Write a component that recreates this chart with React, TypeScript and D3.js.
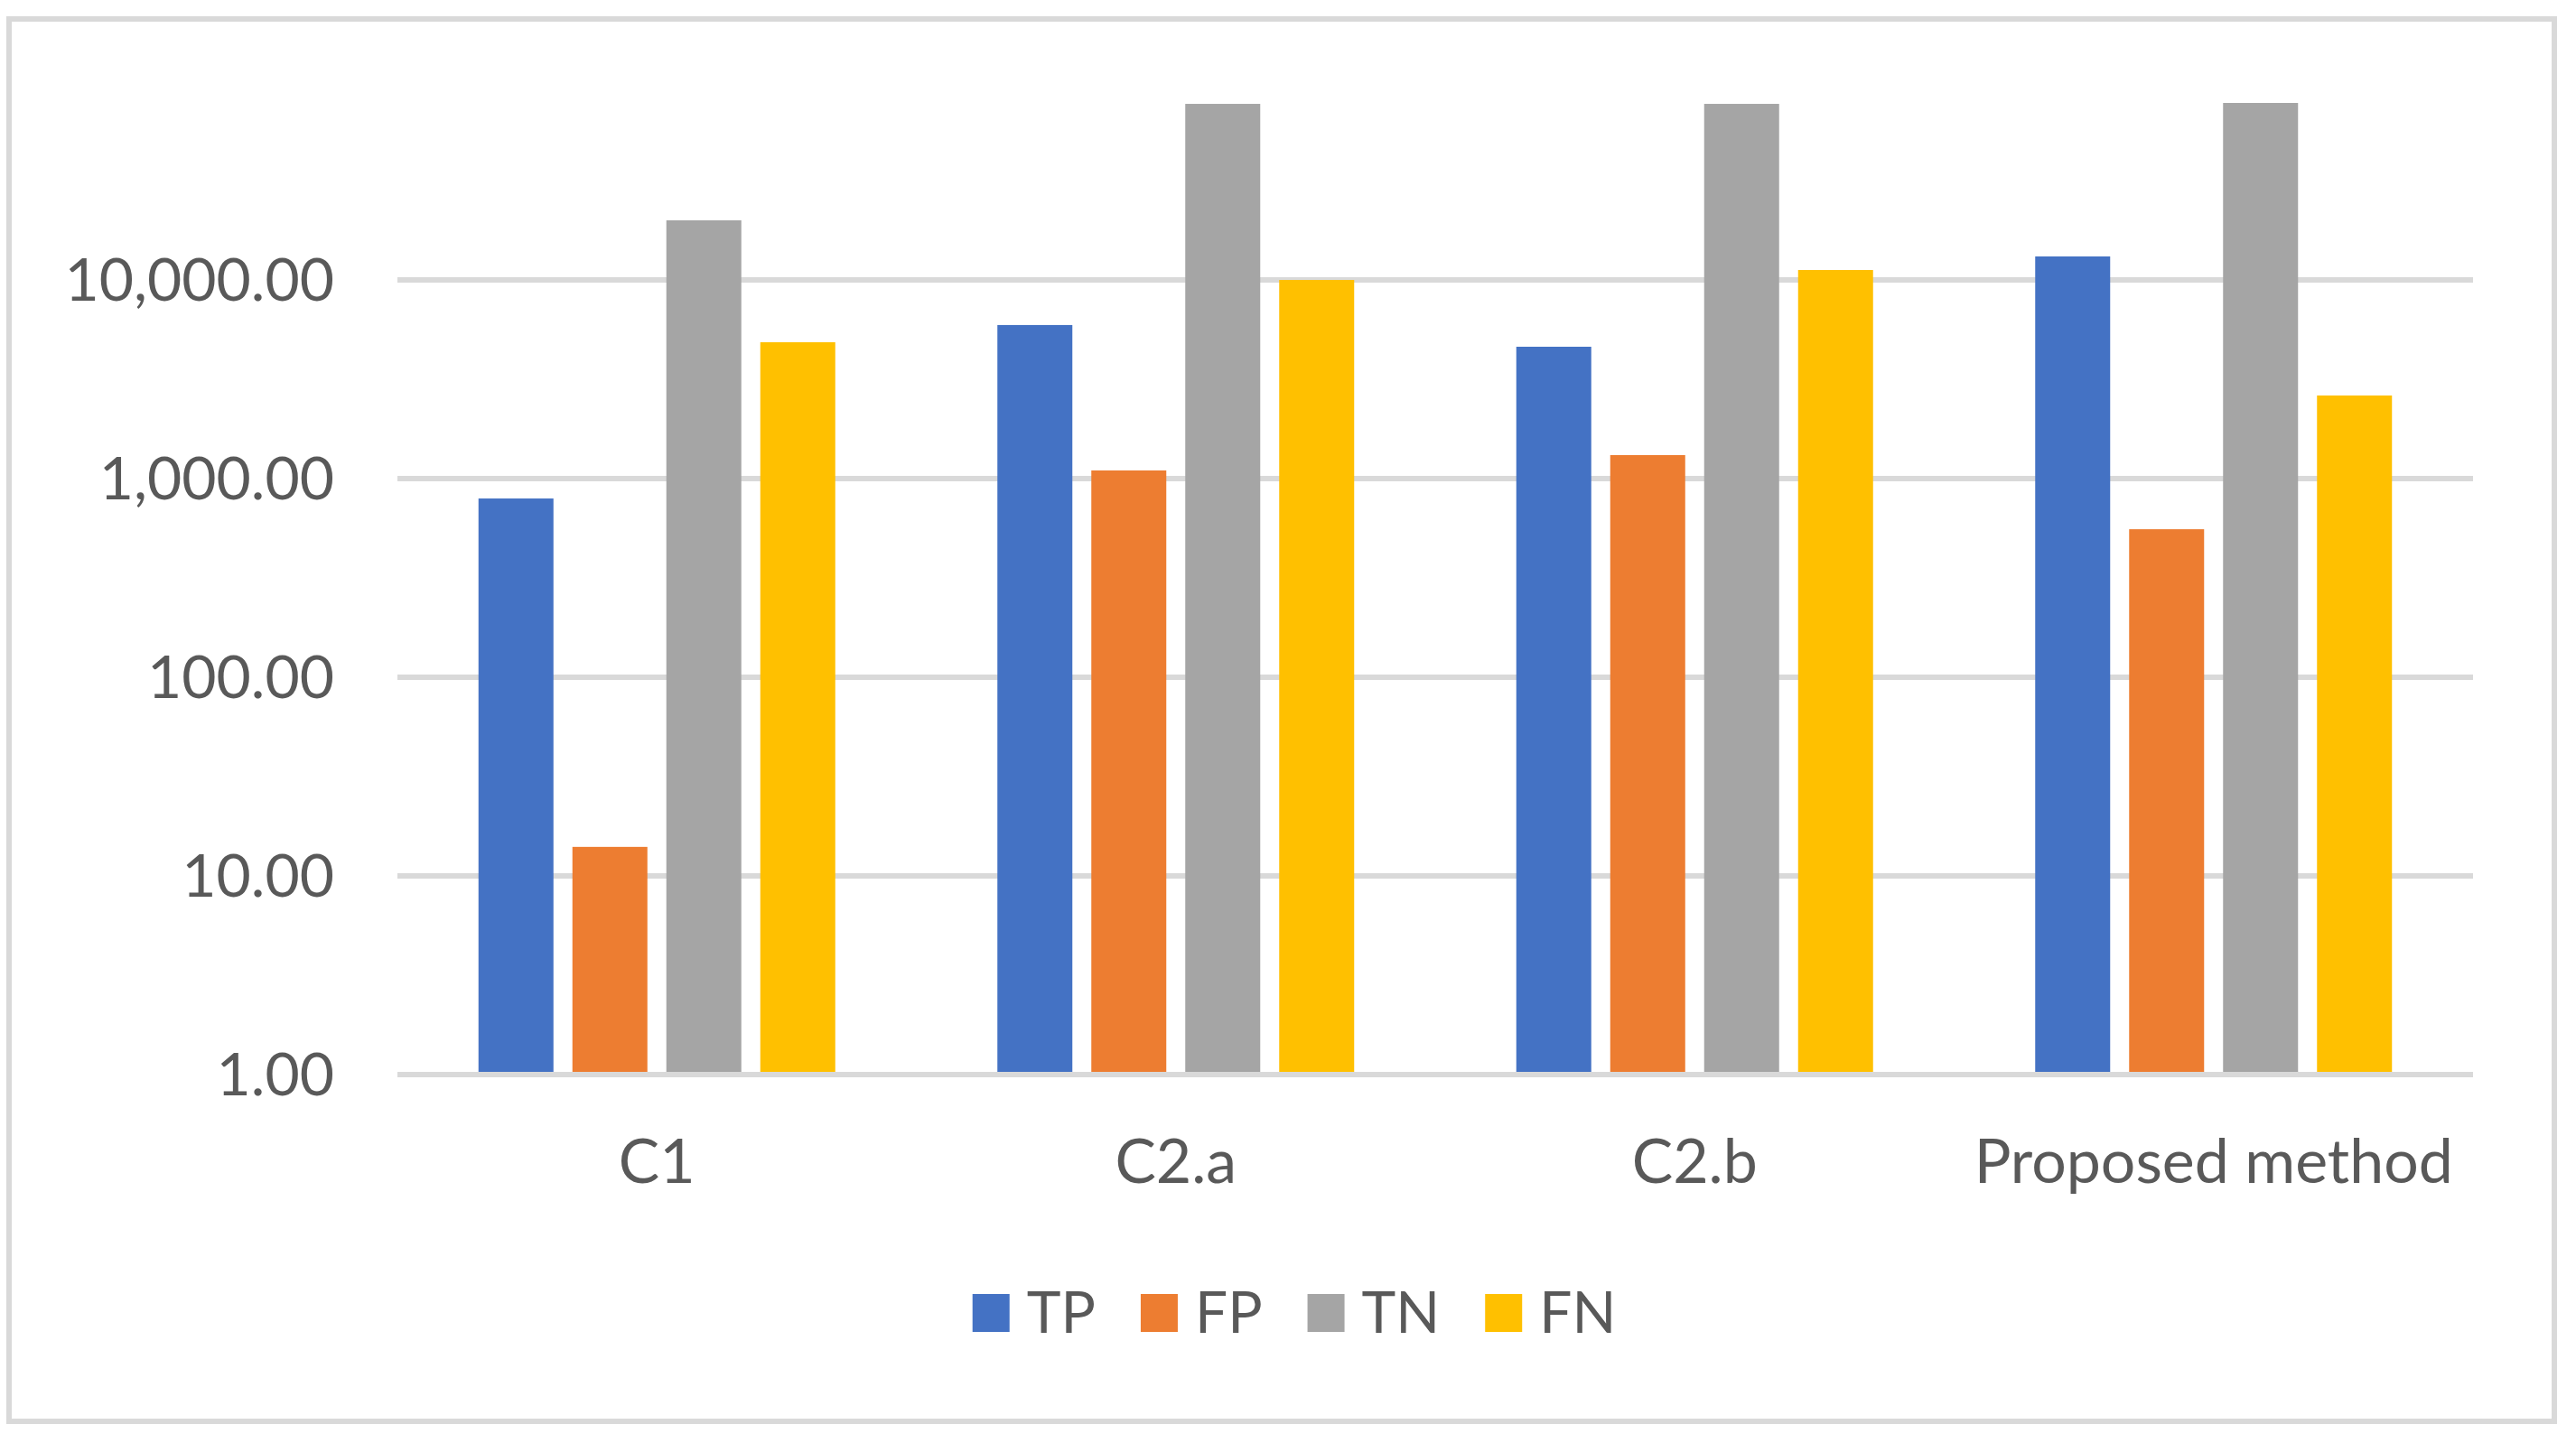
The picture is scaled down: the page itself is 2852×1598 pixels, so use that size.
import React, { useEffect, useRef } from "react";
import * as d3 from "d3";

const categories = ["C1", "C2.a", "C2.b", "Proposed method"];
const seriesNames = ["TP", "FP", "TN", "FN"];
const seriesColors = ["#4472C4", "#ED7D31", "#A5A5A5", "#FFC000"];
const tpValues = [794, 5930, 4610, 13130];
const fpValues = [14, 1099, 1313, 556];
const tnValues = [19950, 76950, 76950, 77800];
const fnValues = [4856, 10000, 11220, 2620];
const tickValues = [1, 10, 100, 1000, 10000];

const W = 2852;
const H = 1598;

export default function App() {
  const ref = useRef<SVGSVGElement | null>(null);

  useEffect(() => {
    const svg = d3.select(ref.current);
    svg.selectAll("*").remove();
    const font = "Lato, 'Open Sans', sans-serif";
    const textColor = "#595959";
    const grid = "#D9D9D9";

    // chart border
    svg.append("rect")
      .attr("x", 10).attr("y", 21).attr("width", 2818).attr("height", 1553)
      .attr("fill", "#fff").attr("stroke", grid).attr("stroke-width", 6);

    const plotLeft = 440, plotRight = 2738;
    const x0 = d3.scaleBand<string>().domain(categories).range([plotLeft, plotRight]).paddingInner(0).paddingOuter(0);
    const bandW = x0.bandwidth();
    const barW = 83, barStep = 104;
    const groupW = barStep * 3 + barW;
    const x1 = d3.scaleBand<string>().domain(seriesNames)
      .range([(bandW - groupW) / 2, (bandW + groupW) / 2])
      .paddingInner((barStep - barW) / barStep).paddingOuter(0);
    const y = d3.scaleLog().domain([1, 100000]).range([1190, 90]);

    // gridlines
    svg.append("g").selectAll("line").data(tickValues).join("line")
      .attr("x1", plotLeft).attr("x2", plotRight)
      .attr("y1", (d) => y(d)).attr("y2", (d) => y(d))
      .attr("stroke", grid).attr("stroke-width", 6);

    // tick labels
    const fmt = d3.format(",.2f");
    svg.append("g").selectAll("text").data(tickValues).join("text")
      .attr("x", 370).attr("y", (d) => y(d) + 23)
      .attr("text-anchor", "end")
      .attr("font-family", font).attr("font-size", 66).attr("fill", textColor)
      .text((d) => fmt(d));

    const all = [tpValues, fpValues, tnValues, fnValues];
    const barBottom = y(1) - 3;
    seriesNames.forEach((s, si) => {
      svg.append("g").selectAll("rect").data(all[si]).join("rect")
        .attr("x", (_d, i) => (x0(categories[i]) as number) + (x1(s) as number))
        .attr("width", x1.bandwidth())
        .attr("y", (d) => y(d))
        .attr("height", (d) => barBottom - y(d))
        .attr("fill", seriesColors[si]);
    });

    // category labels
    svg.append("g").selectAll("text").data(categories).join("text")
      .attr("x", (d) => (x0(d) as number) + bandW / 2)
      .attr("y", 1310)
      .attr("text-anchor", "middle")
      .attr("font-family", font).attr("font-size", 68).attr("fill", textColor)
      .text((d) => d);

    // legend
    const lg = svg.append("g");
    const sq = 41, gapT = 19, gapN = 50;
    const items = seriesNames.map((name, i) => {
      const g = lg.append("g");
      g.append("rect").attr("width", sq).attr("height", sq + 1).attr("y", 1433).attr("fill", seriesColors[i]);
      const t = g.append("text").attr("x", sq + gapT).attr("y", 1476)
        .attr("font-family", font).attr("font-size", 64).attr("fill", textColor).text(name);
      const w = (t.node() as SVGTextElement).getComputedTextLength();
      return { g, w: sq + gapT + w };
    });
    const total = items.reduce((a, b) => a + b.w, 0) + gapN * (items.length - 1);
    let cx = 1433 - total / 2;
    items.forEach((it) => {
      it.g.attr("transform", `translate(${cx},0)`);
      cx += it.w + gapN;
    });
  }, []);

  return (
    <svg ref={ref} width={W} height={H}
      style={{ position: "absolute", left: 0, top: 0, display: "block", background: "#fff" }} />
  );
}
